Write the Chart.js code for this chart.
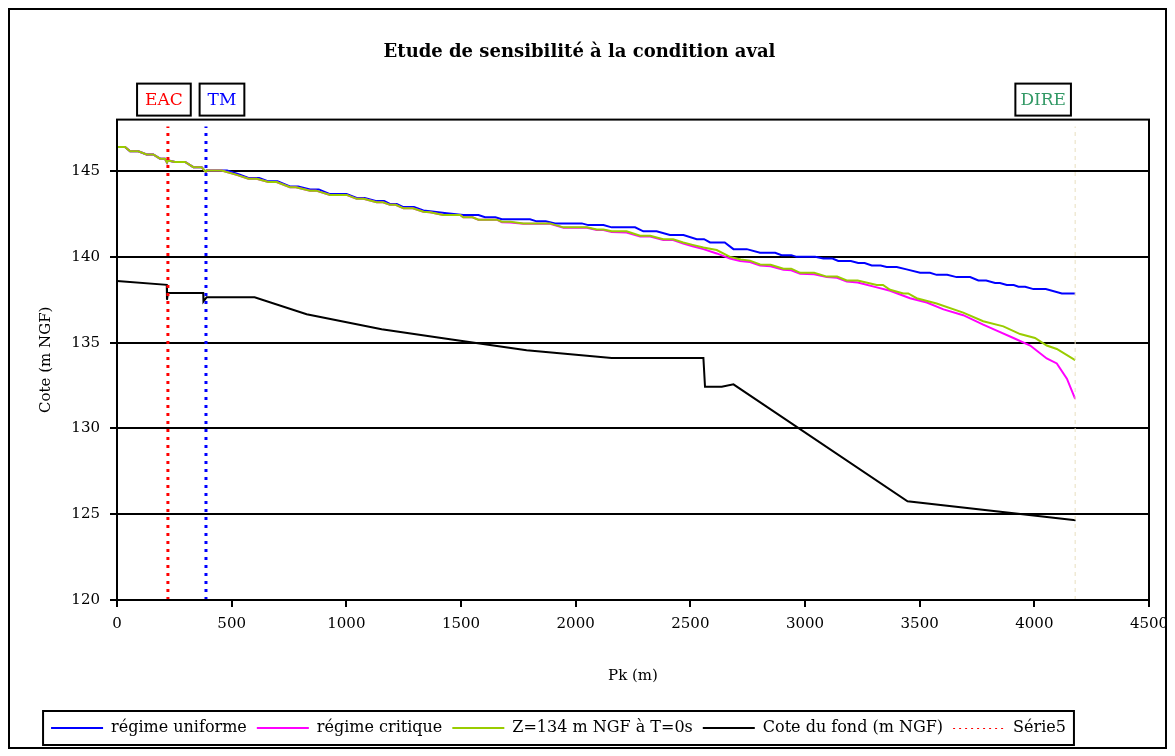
<!DOCTYPE html>
<html lang="fr">
<head>
<meta charset="UTF-8">
<title>Etude de sensibilité à la condition aval</title>
<script src="https://cdn.jsdelivr.net/npm/chart.js"></script>
<style>
  body { margin: 0; background: #fff; }
</style>
</head>
<body>
<canvas id="myChart" width="1175" height="756"></canvas>
<script>
// ligne d'eau, régime uniforme  [pk (m), cote (m NGF)]
const regimeUniforme = [
  [0,146.41],[35,146.41],[57,146.15],[93,146.15],[129,145.97],[158,145.97],[188,145.72],[209,145.72],
  [218,145.5],[222,145.62],[253,145.53],[297,145.53],[333,145.23],[369,145.23],[387,144.95],[392,145.05],
  [405,145.03],[480,145.03],[530,144.82],[573,144.6],[620,144.6],[660,144.4],[700,144.4],[754,144.1],
  [790,144.1],[842,143.93],[880,143.93],[929,143.66],[1001,143.66],[1045,143.43],[1080,143.43],[1132,143.25],
  [1165,143.25],[1190,143.08],[1220,143.08],[1249,142.9],[1295,142.9],[1336,142.7],[1365,142.66],[1438,142.54],
  [1510,142.44],[1576,142.44],[1605,142.31],[1650,142.31],[1678,142.19],[1801,142.19],[1830,142.07],[1870,142.07],
  [1910,141.95],[2027,141.95],[2055,141.85],[2121,141.85],[2157,141.72],[2259,141.72],[2295,141.49],[2353,141.49],
  [2411,141.27],[2470,141.27],[2528,141.03],[2560,141.03],[2586,140.84],[2650,140.84],[2688,140.45],[2746,140.45],
  [2804,140.24],[2870,140.24],[2898,140.1],[2940,140.1],[2964,140.0],[3044,140.0],[3080,139.9],[3120,139.9],
  [3145,139.76],[3200,139.76],[3232,139.64],[3260,139.64],[3291,139.5],[3330,139.5],[3356,139.41],[3400,139.41],
  [3443,139.27],[3502,139.07],[3545,139.07],[3574,138.95],[3620,138.95],[3661,138.82],[3720,138.82],[3756,138.62],
  [3790,138.62],[3829,138.48],[3850,138.48],[3880,138.36],[3910,138.36],[3931,138.26],[3960,138.26],[3996,138.12],
  [4050,138.12],[4120,137.87],[4178,137.87]
];

// ligne d'eau, régime critique
const regimeCritique = [
  [0,146.41],[35,146.41],[57,146.15],[93,146.15],[129,145.97],[158,145.97],[188,145.72],[209,145.72],
  [218,145.5],[222,145.62],[253,145.53],[297,145.53],[333,145.23],[369,145.23],[387,144.95],[392,145.05],
  [405,145.03],[456,145.03],[522,144.78],[573,144.55],[609,144.55],[660,144.36],[696,144.36],[754,144.06],
  [780,144.06],[842,143.86],[868,143.86],[929,143.61],[1001,143.61],[1045,143.38],[1075,143.38],[1132,143.18],
  [1160,143.18],[1190,143.03],[1215,143.03],[1249,142.83],[1290,142.83],[1336,142.63],[1365,142.6],[1423,142.44],
  [1496,142.44],[1510,142.31],[1550,142.31],[1576,142.17],[1656,142.17],[1678,142.02],[1715,142.0],[1772,141.93],
  [1888,141.93],[1947,141.7],[2049,141.7],[2092,141.57],[2121,141.57],[2157,141.45],[2222,141.42],[2281,141.18],
  [2325,141.18],[2382,140.98],[2425,140.98],[2469,140.78],[2510,140.62],[2557,140.45],[2615,140.2],[2673,139.9],
  [2717,139.76],[2760,139.7],[2804,139.5],[2850,139.45],[2906,139.25],[2940,139.22],[2979,139.01],[3040,138.98],
  [3095,138.82],[3140,138.78],[3182,138.56],[3230,138.5],[3313,138.22],[3371,138.02],[3458,137.59],[3531,137.34],
  [3604,136.94],[3690,136.6],[3777,136.05],[3836,135.7],[3909,135.27],[3982,134.83],[4054,134.08],[4098,133.79],
  [4142,132.9],[4178,131.72]
];

// ligne d'eau, Z=134 m NGF à T=0s
const zAvalT0 = [
  [0,146.41],[35,146.41],[57,146.15],[93,146.15],[129,145.97],[158,145.97],[188,145.72],[209,145.72],
  [218,145.5],[222,145.62],[253,145.53],[297,145.53],[333,145.23],[369,145.23],[387,144.95],[392,145.05],
  [405,145.03],[456,145.03],[522,144.78],[573,144.55],[609,144.55],[660,144.36],[696,144.36],[754,144.06],
  [780,144.06],[842,143.86],[868,143.86],[929,143.61],[1001,143.61],[1045,143.38],[1075,143.38],[1132,143.18],
  [1160,143.18],[1190,143.03],[1215,143.03],[1249,142.83],[1290,142.83],[1336,142.63],[1365,142.6],[1423,142.44],
  [1496,142.44],[1510,142.31],[1550,142.31],[1576,142.17],[1656,142.17],[1678,142.05],[1715,142.05],[1772,141.95],
  [1888,141.95],[1947,141.72],[2049,141.72],[2092,141.6],[2121,141.6],[2157,141.49],[2222,141.49],[2281,141.23],
  [2325,141.23],[2382,141.03],[2425,141.03],[2469,140.84],[2510,140.7],[2557,140.55],[2615,140.4],[2673,140.0],
  [2720,139.85],[2760,139.78],[2804,139.56],[2850,139.54],[2906,139.31],[2940,139.31],[2979,139.07],[3040,139.07],
  [3095,138.85],[3140,138.85],[3182,138.62],[3230,138.62],[3313,138.36],[3340,138.36],[3371,138.08],[3429,137.87],
  [3450,137.87],[3487,137.59],[3574,137.28],[3690,136.75],[3777,136.25],[3865,135.95],[3938,135.5],[4003,135.27],
  [4054,134.83],[4098,134.63],[4178,133.98]
];

// cote du fond (m NGF)
const coteFond = [
  [0,138.6],[217,138.37],[218,137.5],[222,137.9],[376,137.9],[377,137.4],[391,137.65],[600,137.65],
  [827,136.66],[1154,135.78],[1452,135.2],[1786,134.55],[2157,134.1],[2557,134.1],[2564,132.43],[2637,132.43],
  [2688,132.57],[3447,125.75],[4180,124.65]
];

// repères (pk des ouvrages)
const repereNoms = ['EAC', 'TM', 'DIRE'];
const reperePk = [222, 388, 4178];
const repereCote = [120, 147.6];

const yTicks = [120, 125, 130, 135, 140, 145];

const pts = arr => arr.map(p => ({ x: p[0], y: p[1] }));
const vertical = pk => repereCote.map(c => ({ x: pk, y: c }));

const serif = '"DejaVu Serif", serif';

// boîtes des repères, décalage horizontal par rapport au trait
const repereStyle = {
  EAC:  { color: '#ff0000', dx: -4, pad: 16 },
  TM:   { color: '#0000ff', dx: 16, pad: 16 },
  DIRE: { color: '#339966', dx: -32, pad: 10 }
};

const cadre = {
  id: 'cadre',
  afterLayout(chart) {
    // la légende est un peu décalée vers la gauche sur l'original
    chart.legend.left -= 21;
    chart.legend.right -= 21;
  },
  beforeDraw(chart) {
    const ctx = chart.ctx;
    ctx.save();
    ctx.fillStyle = '#fff';
    ctx.fillRect(0, 0, chart.width, chart.height);
    ctx.restore();
  },
  afterDraw(chart) {
    const { ctx, chartArea: a } = chart;
    ctx.save();
    ctx.strokeStyle = '#000';
    ctx.lineWidth = 2;
    ctx.strokeRect(a.left, a.top, a.right - a.left, a.bottom - a.top);
    ctx.strokeRect(9, 9, chart.width - 18, chart.height - 17);

    // cadre de la légende
    const leg = chart.legend;
    const hb = leg.legendHitBoxes;
    if (hb && hb.length) {
      let l = Infinity, r = -Infinity, t = Infinity, b = -Infinity;
      hb.forEach(h => {
        l = Math.min(l, h.left); r = Math.max(r, h.left + h.width);
        t = Math.min(t, h.top); b = Math.max(b, h.top + h.height);
      });
      ctx.strokeRect(l - 8, t - 9, r - l + 16, b - t + 18);

      // échantillon pointillé fin pour Série5
      leg.legendItems.forEach((it, i) => {
        if (it.text !== 'Série5') return;
        const h = hb[i];
        const y = h.top + h.height / 2;
        ctx.fillStyle = '#fff';
        ctx.fillRect(h.left - 1, y - 3, 54, 6);
        ctx.strokeStyle = '#ff0000';
        ctx.lineWidth = 1;
        ctx.setLineDash([2, 4]);
        ctx.beginPath();
        ctx.moveTo(h.left, y + 0.5);
        ctx.lineTo(h.left + 52, y + 0.5);
        ctx.stroke();
        ctx.setLineDash([]);
      });
    }

    // étiquettes EAC / TM / DIRE
    const xs = chart.scales.x;
    ctx.font = '17px ' + serif;
    ctx.textAlign = 'center';
    ctx.textBaseline = 'middle';
    ctx.strokeStyle = '#000';
    ctx.lineWidth = 2;
    repereNoms.forEach((nom, i) => {
      const st = repereStyle[nom];
      const cx = xs.getPixelForValue(reperePk[i]) + st.dx;
      const w = ctx.measureText(nom).width + st.pad;
      const h = 32;
      const top = a.top - 36;
      ctx.fillStyle = '#fff';
      ctx.fillRect(cx - w / 2, top, w, h);
      ctx.strokeRect(cx - w / 2, top, w, h);
      ctx.fillStyle = st.color;
      ctx.fillText(nom, cx, top + h / 2 + 1);
    });
    ctx.restore();
  }
};

const ctx = document.getElementById('myChart').getContext('2d');
const myChart = new Chart(ctx, {
  type: 'line',
  data: {
    datasets: [
      { label: 'régime uniforme', data: pts(regimeUniforme), borderColor: '#0000ff', borderWidth: 2, order: 3 },
      { label: 'régime critique', data: pts(regimeCritique), borderColor: '#ff00ff', borderWidth: 2, order: 2 },
      { label: 'Z=134 m NGF à T=0s', data: pts(zAvalT0), borderColor: '#99cc00', borderWidth: 2, order: 1 },
      { label: 'Cote du fond (m NGF)', data: pts(coteFond), borderColor: '#000000', borderWidth: 2, order: 4 },
      { label: 'Série5', data: vertical(reperePk[0]), borderColor: '#ff0000', borderWidth: 3, borderDash: [3, 5], order: 0 },
      { label: 'TM', data: vertical(reperePk[1]), borderColor: '#0000ff', borderWidth: 3, borderDash: [3, 5], order: 0 },
      { label: 'DIRE', data: vertical(reperePk[2]), borderColor: '#e8dfbf', borderWidth: 1, borderDash: [4, 4], order: 0 }
    ]
  },
  options: {
    responsive: false,
    animation: false,
    events: [],
    elements: { point: { radius: 0 }, line: { tension: 0, fill: false } },
    layout: { padding: { top: 10, left: 10, right: 26, bottom: 10 } },
    plugins: {
      title: {
        display: true,
        text: 'Etude de sensibilité à la condition aval',
        color: '#000',
        font: { family: serif, size: 18, weight: 'bold' },
        padding: { top: 32, bottom: 56 }
      },
      legend: {
        position: 'bottom',
        labels: {
          color: '#000',
          font: { family: serif, size: 16 },
          usePointStyle: true,
          pointStyle: 'line',
          pointStyleWidth: 52,
          padding: 10,
          filter: item => item.text !== 'TM' && item.text !== 'DIRE',
          sort: (a, b) => a.datasetIndex - b.datasetIndex
        }
      },
      tooltip: { enabled: false }
    },
    scales: {
      x: {
        type: 'linear',
        min: 0,
        max: 4500,
        ticks: { stepSize: 500, color: '#000', font: { family: serif, size: 15 }, padding: 8, maxRotation: 0, callback: v => String(v) },
        grid: { drawOnChartArea: false, color: '#000', lineWidth: 2, tickLength: 7 },
        border: { color: '#000', width: 2 },
        title: { display: true, text: 'Pk (m)', color: '#000', font: { family: serif, size: 15 }, padding: { top: 4, bottom: 25 } },
        afterFit: s => { s.height = 110; s.paddingLeft = 0; s.paddingRight = 0; }
      },
      y: {
        min: 120,
        max: 148,
        afterBuildTicks: s => { s.ticks = yTicks.map(v => ({ value: v })); },
        ticks: { color: '#000', font: { family: serif, size: 15 }, padding: 10 },
        grid: { color: '#000', lineWidth: 2, tickLength: 7 },
        border: { color: '#000', width: 2 },
        title: { display: true, text: 'Cote (m NGF)', color: '#000', font: { family: serif, size: 15 }, padding: { top: 27, bottom: 0 } },
        afterFit: s => { s.width = 107; }
      }
    }
  },
  plugins: [cadre]
});
</script>
</body>
</html>
